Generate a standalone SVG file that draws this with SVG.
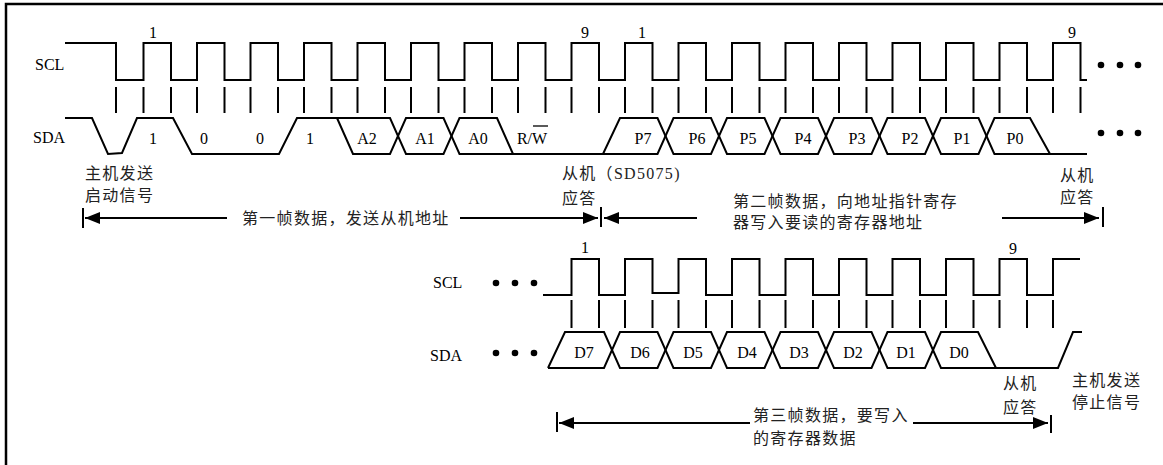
<svg xmlns="http://www.w3.org/2000/svg" width="1163" height="465" viewBox="0 0 1163 465">
<style>
.sig{fill:none;stroke:#000;stroke-width:2;stroke-linejoin:miter}
.tk{fill:none;stroke:#000;stroke-width:2}
.t{font-family:"Liberation Serif","Noto Sans CJK SC",serif;font-size:16px;fill:#000}
.c{font-family:"Liberation Serif","Noto Sans CJK SC",serif;font-size:16px;letter-spacing:1.3px;fill:#222}
.m{text-anchor:middle}
.ar{fill:none;stroke:#000;stroke-width:2}
</style>
<defs>
<marker id="ah" markerUnits="userSpaceOnUse" markerWidth="16" markerHeight="14" viewBox="0 0 16 14" refX="15" refY="7" orient="auto">
<path d="M0,1 L15,7 L0,13 Z" fill="#000"/>
</marker>
</defs>
<rect width="1163" height="465" fill="#fff"/>
<g id="frame">
<path d="M6,465 V4 H1163" fill="none" stroke="#000" stroke-width="2.5"/>
</g>
<g id="frame1-signals">
<text class="t" x="35" y="70">SCL</text>
<text class="t" x="33" y="143">SDA</text>
<path class="sig" d="M65,43 H116 V80 H143.5 V43 H171 V80 H197 V43 H224.5 V80 H250.5 V43 H278 V80 H304 V43 H331.5 V80 H357.5 V43 H385 V80 H411 V43 H438.5 V80 H464.5 V43 H492 V80 H518 V43 H545.5 V80 H571.5 V43 H599 V80 H625 V43 H652.5 V80 H678.5 V43 H706 V80 H732 V43 H759.5 V80 H785.5 V43 H813 V80 H839 V43 H866.5 V80 H892.5 V43 H920 V80 H946 V43 H973.5 V80 H999.5 V43 H1027 V80 H1053 V43 H1080.5 V80 H1087"/>
<path class="tk" d="M116,87V113M143.5,87V113M171,87V113M197,87V113M224.5,87V113M250.5,87V113M278,87V113M304,87V113M331.5,87V113M357.5,87V113M385,87V113M411,87V113M438.5,87V113M464.5,87V113M492,87V113M518,87V113M545.5,87V113M571.5,87V113M599,87V113M625,87V113M652.5,87V113M678.5,87V113M706,87V113M732,87V113M759.5,87V113M785.5,87V113M813,87V113M839,87V113M866.5,87V113M892.5,87V113M920,87V113M946,87V113M973.5,87V113M999.5,87V113M1027,87V113M1053,87V113M1080.5,87V113"/>
<path class="sig" d="M65,118 H92 L108,154 L122,153 L137,118 H173 L192,154 H279 L297,118 H390 L406,154 H443.5 L459.5,118 H497 L513,154 H603 L620,118 H657.5 L673.5,154 H711 L727,118 H764.5 L780.5,154 H818 L834,118 H871.5 L887.5,154 H925 L941,118 H978.5 L994.5,154 H1087"/>
<path class="sig" d="M337,118 L353,154 H390 L406,118 H443.5 L459.5,154 H513"/>
<path class="sig" d="M603,154 H657.5 L673.5,118 H711 L727,154 H764.5 L780.5,118 H818 L834,154 H871.5 L887.5,118 H925 L941,154 H978.5 L994.5,118 H1030 L1050,154"/>
<text class="t m" x="153" y="38">1</text>
<text class="t m" x="585" y="38">9</text>
<text class="t m" x="642" y="38">1</text>
<text class="t m" x="1072" y="38">9</text>
<text class="t m" x="153" y="144">1</text>
<text class="t m" x="204" y="144">0</text>
<text class="t m" x="260" y="144">0</text>
<text class="t m" x="310" y="144">1</text>
<text class="t m" x="367" y="144">A2</text>
<text class="t m" x="425" y="144">A1</text>
<text class="t m" x="478" y="144">A0</text>
<text class="t m" x="532" y="144">R/W</text>
<line x1="533" y1="126" x2="548" y2="126" stroke="#000" stroke-width="1.3"/>
<text class="t m" x="643" y="144">P7</text>
<text class="t m" x="697" y="144">P6</text>
<text class="t m" x="748" y="144">P5</text>
<text class="t m" x="803" y="144">P4</text>
<text class="t m" x="857" y="144">P3</text>
<text class="t m" x="910" y="144">P2</text>
<text class="t m" x="962" y="144">P1</text>
<text class="t m" x="1015" y="144">P0</text>
<circle cx="1101" cy="65" r="3.3"/><circle cx="1120" cy="65" r="3.3"/><circle cx="1138" cy="65" r="3.3"/>
<circle cx="1101" cy="133" r="3.3"/><circle cx="1120" cy="133" r="3.3"/><circle cx="1138" cy="133" r="3.3"/>
</g>
<g id="frame3-signals">
<text class="t" x="433" y="288">SCL</text>
<text class="t" x="430" y="361">SDA</text>
<circle cx="496" cy="283" r="3.3"/><circle cx="515" cy="283" r="3.3"/><circle cx="534" cy="283" r="3.3"/>
<circle cx="496" cy="353" r="3.3"/><circle cx="515" cy="353" r="3.3"/><circle cx="534" cy="353" r="3.3"/>
<path class="sig" d="M543,295 H571.5 V259 H599 V295 H625 V259 H652.5 V293 H678.5 V259 H706 V295 H732 V259 H759.5 V295 H785.5 V259 H813 V295 H839 V259 H866.5 V295 H892.5 V259 H920 V295 H946 V259 H973.5 V295 H999.5 V259 H1027 V295 H1053 V259 H1080"/>
<path class="tk" d="M571.5,300V328M599,300V328M625,300V328M652.5,300V328M678.5,300V328M706,300V328M732,300V328M759.5,300V328M785.5,300V328M813,300V328M839,300V328M866.5,300V328M892.5,300V328M920,300V328M946,300V328M973.5,300V328M999.5,300V328M1027,300V328M1053,300V328"/>
<path class="sig" d="M548,368 L565,332 H604 L620,368 H657.5 L673.5,332 H711 L727,368 H764.5 L780.5,332 H818 L834,368 H871.5 L887.5,332 H925 L941,368 H1058 L1073,332 H1082"/>
<path class="sig" d="M548,368 H604 L620,332 H657.5 L673.5,368 H711 L727,332 H764.5 L780.5,368 H818 L834,332 H871.5 L887.5,368 H925 L941,332 H978 L996,368"/>
<text class="t m" x="585" y="253">1</text>
<text class="t m" x="1013" y="254">9</text>
<text class="t m" x="584" y="358">D7</text>
<text class="t m" x="640" y="358">D6</text>
<text class="t m" x="693" y="358">D5</text>
<text class="t m" x="747" y="358">D4</text>
<text class="t m" x="799" y="358">D3</text>
<text class="t m" x="853" y="358">D2</text>
<text class="t m" x="906" y="358">D1</text>
<text class="t m" x="959" y="358">D0</text>
</g>
<g id="labels">
<text class="c" x="85" y="179">主机发送</text>
<text class="c" x="85" y="201">启动信号</text>
<text class="c" x="562" y="179">从机（SD5075)</text>
<text class="c" x="562" y="204">应答</text>
<text class="c" x="1060" y="181">从机</text>
<text class="c" x="1060" y="203">应答</text>
<text class="c" x="242" y="224">第一帧数据，发送从机地址</text>
<text class="c" x="733" y="207">第二帧数据，向地址指针寄存</text>
<text class="c" x="733" y="228">器写入要读的寄存器地址</text>
<text class="c" x="1003" y="389">从机</text>
<text class="c" x="1003" y="413">应答</text>
<text class="c" x="1072" y="386">主机发送</text>
<text class="c" x="1072" y="408">停止信号</text>
<text class="c" x="753" y="421">第三帧数据，要写入</text>
<text class="c" x="753" y="444">的寄存器数据</text>
</g>
<g id="connectors">
<path class="tk" d="M83,208V228M601,207V227M1103,207V227M557,412V432M1051,415V433"/>
<path class="ar" d="M227,218 H85" marker-end="url(#ah)"/>
<path class="ar" d="M460,218 H598" marker-end="url(#ah)"/>
<path class="ar" d="M697,218 H604" marker-end="url(#ah)"/>
<path class="ar" d="M1002,218 H1099" marker-end="url(#ah)"/>
<path class="ar" d="M750,423 H559" marker-end="url(#ah)"/>
<path class="ar" d="M913,423 H1048" marker-end="url(#ah)"/>
</g>
</svg>
